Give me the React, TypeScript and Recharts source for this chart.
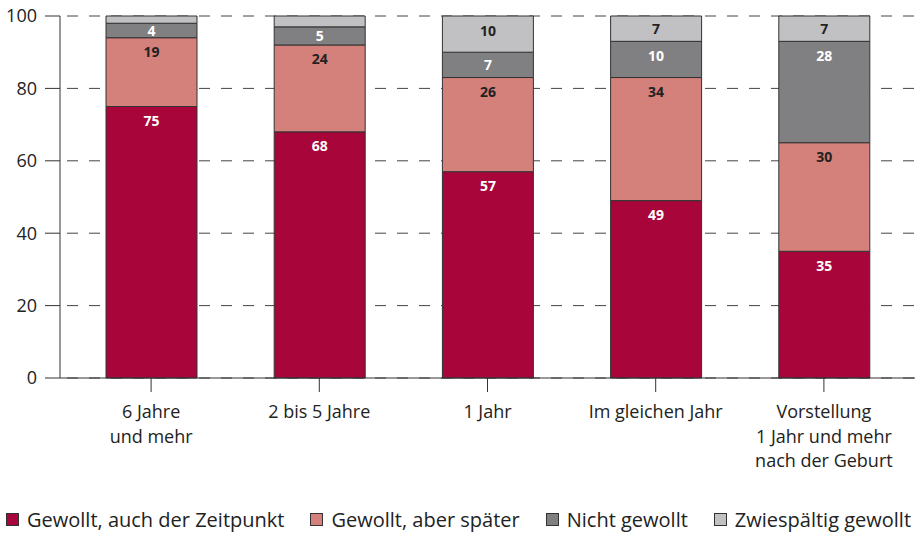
import { BarChart, Bar, XAxis, YAxis, CartesianGrid, LabelList } from 'recharts';

const CATEGORIES = [
  '6 Jahre\nund mehr',
  '2 bis 5 Jahre',
  '1 Jahr',
  'Im gleichen Jahr',
  'Vorstellung\n1 Jahr und mehr\nnach der Geburt',
];
const GEWOLLT_ZEITPUNKT = [75, 68, 57, 49, 35];
const GEWOLLT_SPAETER = [19, 24, 26, 34, 30];
const NICHT_GEWOLLT = [4, 5, 7, 10, 28];
const ZWIESPAELTIG = [2, 3, 10, 7, 7];
const Y_TICKS = [0, 20, 40, 60, 80, 100];

const SERIES = [
  { key: 'zeitpunkt', label: 'Gewollt, auch der Zeitpunkt', color: '#a8053a', text: '#ffffff' },
  { key: 'spaeter', label: 'Gewollt, aber später', color: '#d4807b', text: '#222222' },
  { key: 'nicht', label: 'Nicht gewollt', color: '#808082', text: '#ffffff' },
  { key: 'zwiespaeltig', label: 'Zwiespältig gewollt', color: '#c1c1c3', text: '#222222' },
];

const data = CATEGORIES.map((name, i) => ({
  name,
  zeitpunkt: GEWOLLT_ZEITPUNKT[i],
  spaeter: GEWOLLT_SPAETER[i],
  nicht: NICHT_GEWOLLT[i],
  zwiespaeltig: ZWIESPAELTIG[i],
}));

const FONT = '"Open Sans", sans-serif';

// Label near the top of each segment, tiny ones are skipped
const segmentLabel = (fill: string) => (props: any) => {
  const { x, y, width, height, value } = props;
  if (value < 4) return null;
  const cy = Math.min(y + 14, y + height / 2);
  return (
    <text
      x={x + width / 2}
      y={cy}
      textAnchor="middle"
      dominantBaseline="central"
      fill={fill}
      fontSize={14}
      fontWeight={700}
      fontFamily={FONT}
    >
      {value}
    </text>
  );
};

const CategoryTick = (props: any) => {
  const { x, y, payload } = props;
  const lines = String(payload.value).split('\n');
  return (
    <text x={x} y={y} textAnchor="middle" fill="#222" fontSize={18} fontFamily={FONT}>
      {lines.map((line, i) => (
        <tspan key={i} x={x} dy={i === 0 ? 24 : 24.5}>
          {line}
        </tspan>
      ))}
    </text>
  );
};

export default function App() {
  document.body.style.margin = '0';
  return (
    <div style={{ width: 919, height: 533, position: 'relative', fontFamily: FONT, background: '#fff' }}>
      <BarChart
        width={919}
        height={490}
        data={data}
        margin={{ top: 16, right: 4, left: 0, bottom: 0 }}
        barSize={91}
      >
        <CartesianGrid
          horizontal
          vertical={false}
          stroke="#444"
          strokeDasharray="11 11"
          strokeDashoffset={-7}
        />
        <XAxis
          dataKey="name"
          interval={0}
          height={112}
          padding={{ left: 7, right: 7 }}
          tickSize={14}
          tickMargin={2}
          stroke="#333"
          tick={<CategoryTick />}
        />
        <YAxis
          domain={[0, 100]}
          ticks={Y_TICKS}
          width={60}
          tickSize={15}
          tickMargin={8}
          stroke="#333"
          tick={{ fontSize: 18, fill: '#222', fontFamily: FONT }}
        />
        {SERIES.map((s) => (
          <Bar
            key={s.key}
            dataKey={s.key}
            stackId="a"
            fill={s.color}
            stroke="#333"
            strokeWidth={1}
            isAnimationActive={false}
          >
            <LabelList dataKey={s.key} content={segmentLabel(s.text)} />
          </Bar>
        ))}
      </BarChart>
      <div
        style={{
          position: 'absolute',
          left: 6,
          top: 506,
          display: 'flex',
          alignItems: 'center',
          gap: 26,
          fontSize: 20,
          color: '#222',
          whiteSpace: 'nowrap',
        }}
      >
        {SERIES.map((s) => (
          <div key={s.key} style={{ display: 'flex', alignItems: 'center', gap: 8 }}>
            <span
              style={{
                display: 'inline-block',
                width: 11,
                height: 11,
                background: s.color,
                border: '1px solid #333',
              }}
            />
            <span>{s.label}</span>
          </div>
        ))}
      </div>
    </div>
  );
}
